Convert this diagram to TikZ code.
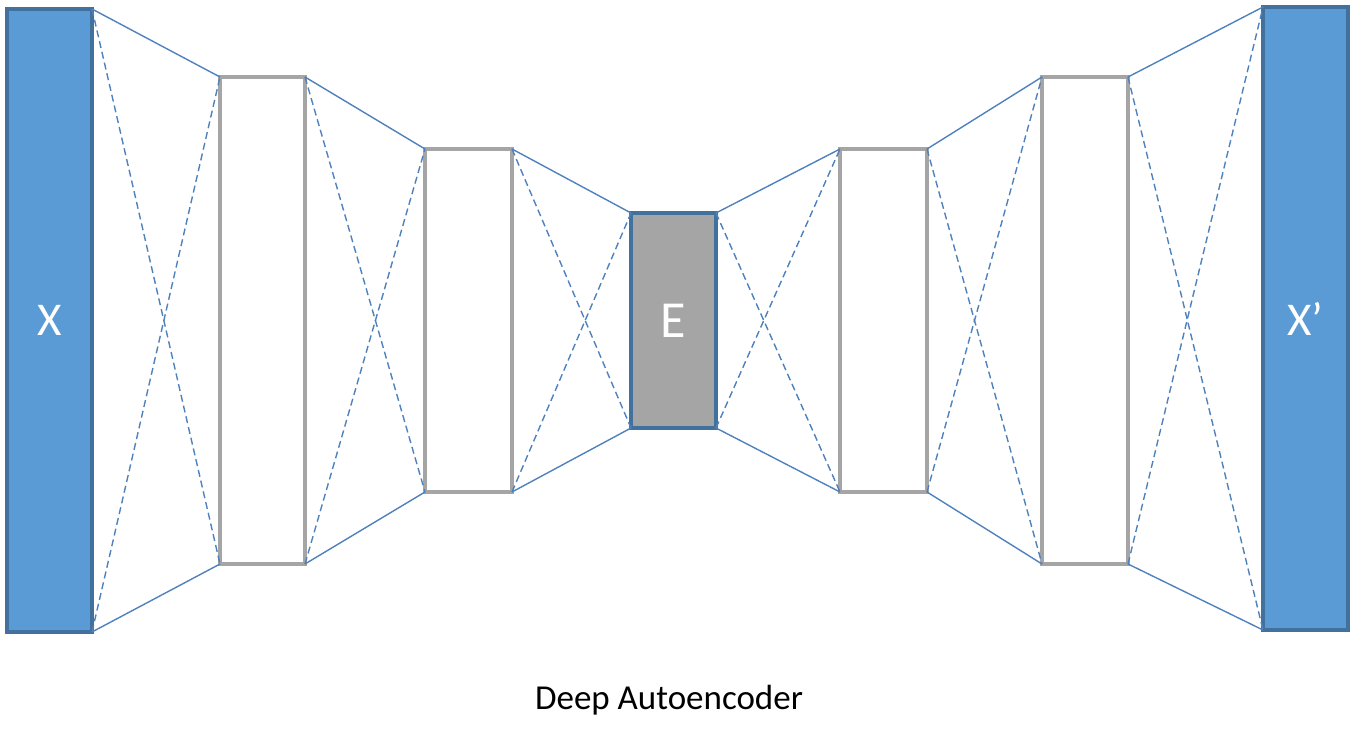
\documentclass[tikz,border=0pt]{standalone}
\usepackage{fontspec}
\setmainfont{Carlito}
\definecolor{aeblue}{RGB}{91,155,213}
\definecolor{aeedge}{RGB}{65,113,156}
\definecolor{aegray}{RGB}{165,165,165}
\definecolor{aeline}{RGB}{79,129,189}
\tikzset{
  layer/.style={draw=aegray, fill=white, line width=3.2pt, inner sep=0pt, outer sep=0pt},
  inout/.style={layer, draw=aeedge, fill=aeblue, text=white, font=\fontsize{47}{50}\selectfont},
  codebox/.style={inout, fill=aegray, font=\fontsize{52}{56}\selectfont},
  link/.style={aeline, line width=1.4pt},
  cross/.style={link, dash pattern=on 7pt off 4pt}
}
\begin{document}
\begin{tikzpicture}[x=1pt, y=-1pt]
  \useasboundingbox (0,0) rectangle (1358,741);
  % layers: name/left/top/width/height/style/label
  \foreach \n/\x/\y/\w/\h/\s/\t in {in/7/9/85/623/inout/X, h1/220/77/85/487/layer/{}, h2/425/149/87/343/layer/{},
      code/631/213/85/215/codebox/E, h3/840/149/87/343/layer/{}, h4/1042/77/86/487/layer/{}, out/1263/7/85/623/inout/X’} {
    \node[\s, minimum width=\w pt, minimum height=\h pt] (\n) at (\x+\w/2, \y+\h/2) {\t};
  }
  \foreach \a/\b in {in/h1, h1/h2, h2/code, code/h3, h3/h4, h4/out} {
    \draw[link] (\a.north east) -- (\b.north west);
    \draw[link] (\a.south east) -- (\b.south west);
    \draw[cross] (\a.north east) -- (\b.south west);
    \draw[cross] (\a.south east) -- (\b.north west);
  }
  \node[font=\fontsize{35}{38}\selectfont] (title) at (669,700) {Deep Autoencoder};
\end{tikzpicture}
\end{document}
